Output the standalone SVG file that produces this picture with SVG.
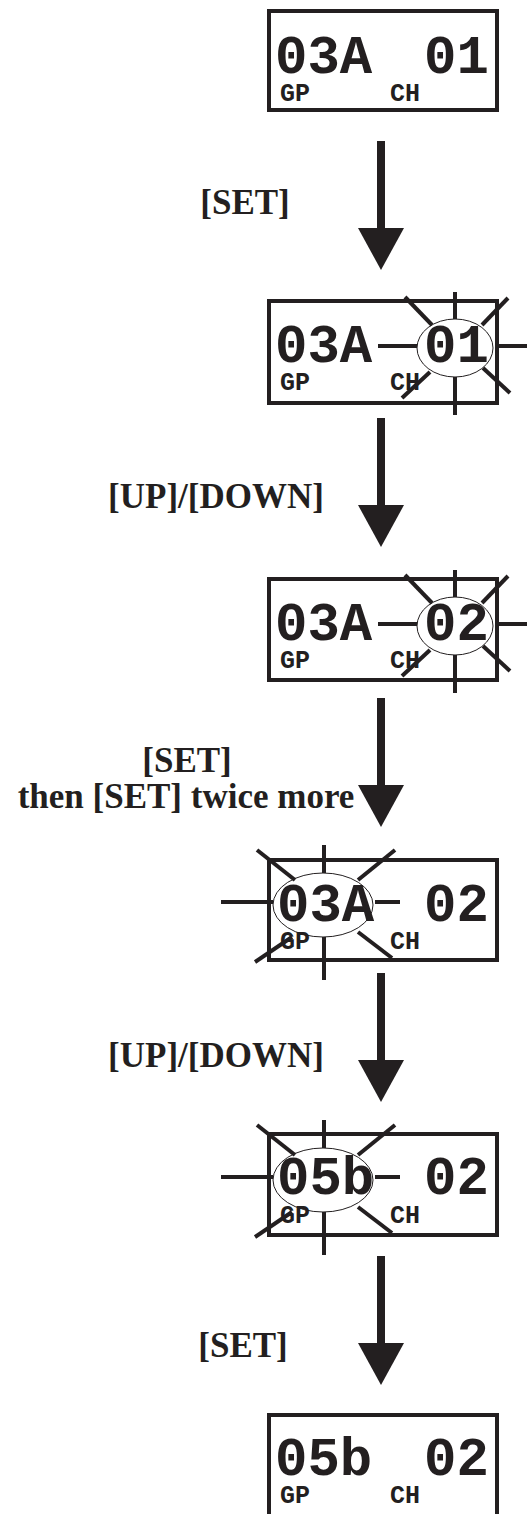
<svg xmlns="http://www.w3.org/2000/svg" width="527" height="1514" viewBox="0 0 527 1514">
<style>
.box{fill:#fff;stroke:#231f20;stroke-width:4}
.big{font-family:"Liberation Mono","Courier New",monospace;font-weight:bold;font-size:54px;fill:#231f20}
.small{font-family:"Liberation Mono","Courier New",monospace;font-weight:bold;font-size:25px;fill:#231f20}
.lbl{font-family:"Liberation Serif","Times New Roman",serif;font-weight:bold;font-size:35px;fill:#231f20;text-anchor:middle}
.ray{stroke:#231f20;stroke-width:4;fill:none}
.ell{fill:none;stroke:#231f20;stroke-width:1}
.arw{fill:#231f20}
</style>
<defs>
<g id="arrow"><rect class="arw" x="-4" y="0" width="8" height="89"/><polygon class="arw" points="-23,87 23,87 0,129"/></g>
<g id="burstR">
<line class="ray" x1="-77" y1="0" x2="-38" y2="0"/>
<line class="ray" x1="43" y1="0" x2="80" y2="0"/>
<line class="ray" x1="0" y1="-54" x2="0" y2="-27"/>
<line class="ray" x1="0" y1="31" x2="0" y2="69"/>
<line class="ray" x1="-50" y1="-49" x2="-23" y2="-21"/>
<line class="ray" x1="53" y1="-48" x2="27" y2="-21"/>
<line class="ray" x1="-25" y1="26" x2="-53" y2="52"/>
<line class="ray" x1="28" y1="22" x2="55" y2="47"/>
<ellipse class="ell" cx="0" cy="2" rx="38" ry="29"/>
</g>
<g id="burstL">
<line class="ray" x1="-103" y1="0" x2="-51" y2="0"/>
<line class="ray" x1="51" y1="0" x2="76" y2="0"/>
<line class="ray" x1="0" y1="-57" x2="0" y2="-29"/>
<line class="ray" x1="0" y1="35" x2="0" y2="78"/>
<line class="ray" x1="-67" y1="-52" x2="-29" y2="-22"/>
<line class="ray" x1="71" y1="-52" x2="34" y2="-22"/>
<line class="ray" x1="-32" y1="35" x2="-69" y2="60"/>
<line class="ray" x1="34" y1="30" x2="68" y2="56"/>
<ellipse class="ell" cx="-1" cy="3" rx="50" ry="32"/>
</g>
</defs>

<g id="connectors">
<use href="#arrow" transform="translate(381,141)"/>
<use href="#arrow" transform="translate(381,418)"/>
<use href="#arrow" transform="translate(381,698)"/>
<use href="#arrow" transform="translate(381,973)"/>
<use href="#arrow" transform="translate(381,1256)"/>
<text class="lbl" x="245" y="214">[SET]</text>
<text class="lbl" x="216" y="508">[UP]/[DOWN]</text>
<text class="lbl" x="187" y="772">[SET]</text>
<text class="lbl" x="186" y="808">then [SET] twice more</text>
<text class="lbl" x="216" y="1067">[UP]/[DOWN]</text>
<text class="lbl" x="243" y="1357">[SET]</text>
</g>

<g id="display1">
<rect class="box" x="269" y="11" width="228" height="99"/>
<text class="big" x="275" y="73">03A</text><text class="big" x="424" y="73">01</text>
<text class="small" x="280" y="101">GP</text><text class="small" x="390" y="101">CH</text>
</g>

<g id="display2">
<rect class="box" x="269" y="301" width="228" height="102"/>
<text class="big" x="275" y="362">03A</text><text class="big" x="424" y="362">01</text>
<text class="small" x="280" y="390">GP</text><text class="small" x="390" y="390">CH</text>
<use href="#burstR" transform="translate(455,346)"/>
</g>

<g id="display3">
<rect class="box" x="269" y="579" width="228" height="101"/>
<text class="big" x="275" y="640">03A</text><text class="big" x="424" y="640">02</text>
<text class="small" x="280" y="668">GP</text><text class="small" x="390" y="668">CH</text>
<use href="#burstR" transform="translate(455,624)"/>
</g>

<g id="display4">
<rect class="box" x="269" y="860" width="228" height="100"/>
<text class="big" x="277" y="921">03A</text><text class="big" x="424" y="921">02</text>
<text class="small" x="280" y="949">GP</text><text class="small" x="390" y="949">CH</text>
<use href="#burstL" transform="translate(324,902)"/>
</g>

<g id="display5">
<rect class="box" x="269" y="1134" width="228" height="101"/>
<text class="big" x="277" y="1194">05b</text><text class="big" x="424" y="1194">02</text>
<text class="small" x="280" y="1223">GP</text><text class="small" x="390" y="1223">CH</text>
<use href="#burstL" transform="translate(324,1177)"/>
</g>

<g id="display6">
<rect class="box" x="269" y="1415" width="228" height="110"/>
<text class="big" x="275" y="1475">05b</text><text class="big" x="424" y="1475">02</text>
<text class="small" x="280" y="1503">GP</text><text class="small" x="390" y="1503">CH</text>
</g>
</svg>
